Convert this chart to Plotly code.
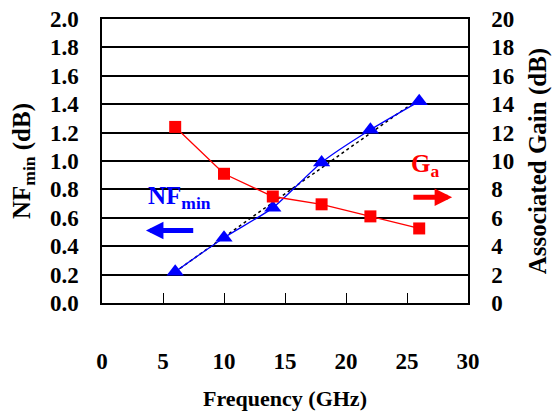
import plotly.graph_objects as go

freq = [6, 10, 14, 18, 22, 26]
nf_min = [0.22, 0.46, 0.67, 0.99, 1.22, 1.42]
gain = [12.4, 9.1, 7.5, 6.95, 6.1, 5.25]
trend_x = [6, 26]
trend_nf = [0.22, 1.44]

FONT = "'Times New Roman', 'Liberation Serif', 'DejaVu Serif', serif"
fig = go.Figure()

fig.add_trace(go.Scatter(x=trend_x, y=trend_nf, mode="lines",
                         line=dict(color="black", width=1.5, dash="dot"),
                         showlegend=False, yaxis="y"))
fig.add_trace(go.Scatter(x=freq, y=nf_min, mode="lines+markers",
                         line=dict(color="#0000FF", width=1.3, shape="spline", smoothing=0.6),
                         marker=dict(symbol="triangle-up", size=15, color="#0000FF"),
                         showlegend=False, yaxis="y"))
fig.add_trace(go.Scatter(x=freq, y=gain, mode="lines+markers",
                         line=dict(color="#FF0000", width=1.3),
                         marker=dict(symbol="square", size=12, color="#FF0000"),
                         showlegend=False, yaxis="y2"))

# labels and arrows
fig.add_annotation(x=3.6, y=0.74, xref="x", yref="y", text="<b>NF<sub>min</sub></b>",
                   showarrow=False, xanchor="left",
                   font=dict(family=FONT, size=25, color="#0000FF"))
fig.add_annotation(x=3.6, y=0.51, ax=7.6, ay=0.51, xref="x", yref="y", axref="x", ayref="y",
                   text="", showarrow=True, arrowhead=2, arrowsize=0.7, arrowwidth=5,
                   arrowcolor="#0000FF")
fig.add_annotation(x=25.2, y=0.97, xref="x", yref="y", text="<b>G<sub>a</sub></b>",
                   showarrow=False, xanchor="left",
                   font=dict(family=FONT, size=25, color="#FF0000"))
fig.add_annotation(x=28.7, y=0.745, ax=25.4, ay=0.745, xref="x", yref="y", axref="x", ayref="y",
                   text="", showarrow=True, arrowhead=2, arrowsize=0.7, arrowwidth=5,
                   arrowcolor="#FF0000")

tickfont = dict(family=FONT, size=23, color="black", weight="bold")
fig.update_layout(
    width=552, height=411,
    margin=dict(l=102, r=84, t=19, b=108),
    paper_bgcolor="white", plot_bgcolor="white",
    font=dict(family=FONT, color="black"),
    xaxis=dict(range=[0, 30], dtick=5, tickfont=tickfont, showgrid=False, automargin=False,
               showline=True, linecolor="black", linewidth=1.5, mirror=True,
               ticks="inside", ticklen=10, tickwidth=1, tickcolor="black",
               ticklabelstandoff=37, zeroline=False,
               title=dict(text="<b>Frequency (GHz)</b>", standoff=30,
                          font=dict(family=FONT, size=22))),
    yaxis=dict(range=[0, 2], dtick=0.2, tickformat=".1f", tickfont=tickfont, automargin=False,
               showgrid=True, gridcolor="black", gridwidth=1.5,
               showline=True, linecolor="black", linewidth=1.5,
               ticks="", ticklabelstandoff=17, zeroline=False,
               title=dict(text="<b>NF<sub>min</sub> (dB)</b>", standoff=12,
                          font=dict(family=FONT, size=25))),
    yaxis2=dict(range=[0, 20], dtick=2, tickfont=tickfont, overlaying="y", side="right",
                automargin=False,
                showgrid=False, showline=True, linecolor="black", linewidth=1.5,
                ticks="", ticklabelstandoff=17, zeroline=False,
                title=dict(text="<b>Associated Gain (dB)</b>", standoff=15,
                           font=dict(family=FONT, size=25))),
)

fig.write_html("out.html")
